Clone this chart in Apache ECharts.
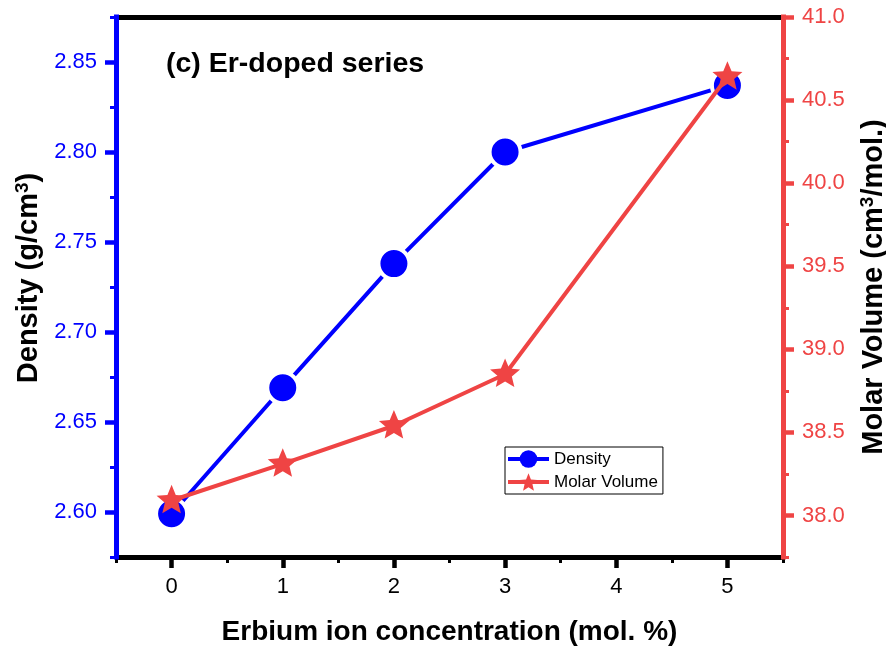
<!DOCTYPE html>
<html>
<head>
<meta charset="utf-8">
<script src="https://cdn.jsdelivr.net/npm/echarts@6/dist/echarts.min.js"></script>
<style>
  html, body { margin: 0; padding: 0; background: #ffffff; }
  #chart { width: 886px; height: 648px; }
</style>
</head>
<body>
<div id="chart"></div>
<script>
// Er2O3 content (mol. %) and measured glass properties
const erConcentration = [0, 1, 2, 3, 5];
const density = [2.599, 2.669, 2.738, 2.800, 2.837];         // g/cm3
const molarVolume = [38.09, 38.31, 38.54, 38.85, 40.64];     // cm3/mol

// Labelled (major) tick positions
const xTicks = [0, 1, 2, 3, 4, 5];
const densityTicks = [2.60, 2.65, 2.70, 2.75, 2.80, 2.85];
const molarTicks = [38.0, 38.5, 39.0, 39.5, 40.0, 40.5, 41.0];

const FONT = '"Liberation Sans", Arial, sans-serif';
const BLUE = '#0000FF';
const RED = '#EF4444';
const BLACK = '#000000';

// Five-pointed star outline used as the molar-volume marker
function starPath(inner) {
  const pts = [];
  for (let i = 0; i < 10; i++) {
    const r = i % 2 ? inner : 1;
    const a = -Math.PI / 2 + i * Math.PI / 5;
    pts.push((r * Math.cos(a)).toFixed(4) + ' ' + (r * Math.sin(a)).toFixed(4));
  }
  return 'path://M' + pts.join(' L') + ' Z';
}

const boldText = (size) => ({ fontSize: size, fontWeight: 'bold', fontFamily: FONT, color: BLACK });
const supStyle = { fontSize: 19, fontWeight: 'bold', fontFamily: FONT, color: BLACK, verticalAlign: 'top', padding: [0, 0, 12, 0] };

// Each scale gets two stacked axes: one carrying the short minor ticks and line,
// one carrying the long labelled ticks.
function minorAxis(position, min, max, step, color, z, cap) {
  return {
    type: 'value', position, min, max, interval: step, z,
    axisLine: { show: true, onZero: false, lineStyle: { color, width: 5, cap: cap || 'butt' } },
    axisTick: { show: true, inside: false, length: 6, lineStyle: { color, width: 3 } },
    axisLabel: { show: false },
    splitLine: { show: false }
  };
}
function majorAxis(position, min, max, ticks, color, labelColor, digits, z, extra) {
  return Object.assign({
    type: 'value', position, min, max, z,
    axisLine: { show: false, onZero: false },
    axisTick: { show: true, inside: false, length: 11, customValues: ticks, lineStyle: { color, width: 4.5 } },
    axisLabel: {
      show: true, customValues: ticks, margin: 19,
      formatter: v => Number(v).toFixed(digits),
      color: labelColor, fontSize: 22, fontFamily: FONT
    },
    splitLine: { show: false }
  }, extra);
}

const chart = echarts.init(document.getElementById('chart'), null, { renderer: 'canvas' });

chart.setOption({
  animation: false,
  backgroundColor: '#ffffff',
  grid: { left: 116, top: 17, width: 667, height: 540, containLabel: false, outerBoundsMode: 'none' },
  graphic: [{
    type: 'text', left: 166, top: 50,
    style: Object.assign({ text: '(c) Er-doped series' }, boldText(28.5))
  }],
  legend: {
    orient: 'vertical', left: 505, top: 447,
    itemWidth: 41, itemHeight: 22, itemGap: 1,
    padding: [1, 5, 1, 1],
    borderColor: BLACK, borderWidth: 1, borderRadius: 0, backgroundColor: '#ffffff',
    lineStyle: { width: 4 },
    itemStyle: { borderWidth: 0 },
    textStyle: { fontSize: 17, fontFamily: FONT, color: BLACK, lineHeight: 22, height: 22 },
    data: ['Density', 'Molar Volume']
  },
  xAxis: [
    minorAxis('bottom', -0.5, 5.5, 0.5, BLACK, 2),
    majorAxis('bottom', -0.5, 5.5, xTicks, BLACK, BLACK, 0, 2, {
      name: 'Erbium ion concentration (mol. %)',
      nameLocation: 'middle', nameGap: 61, nameTextStyle: boldText(28)
    }),
    {
      type: 'value', position: 'top', min: -0.5, max: 5.5, z: 2,
      axisLine: { show: true, onZero: false, lineStyle: { color: BLACK, width: 5 } },
      axisTick: { show: false }, axisLabel: { show: false }, splitLine: { show: false }
    }
  ],
  yAxis: [
    minorAxis('left', 2.575, 2.875, 0.025, BLUE, 4, 'square'),
    majorAxis('left', 2.575, 2.875, densityTicks, BLUE, BLUE, 2, 4, {
      name: 'Density (g/cm{sup|3})',
      nameLocation: 'middle', nameGap: 72, nameRotate: 90,
      nameTextStyle: Object.assign({ rich: { sup: supStyle }, padding: [0, 0, 0, 18] }, boldText(29))
    }),
    minorAxis('right', 37.75, 41.0, 0.25, RED, 4, 'square'),
    majorAxis('right', 37.75, 41.0, molarTicks, RED, RED, 1, 4, {
      name: 'Molar Volume (cm{sup|3}/mol.)',
      nameLocation: 'middle', nameGap: 75, nameRotate: 90,
      nameTextStyle: Object.assign({ rich: { sup: supStyle } }, boldText(29))
    })
  ],
  series: [
    {
      name: 'Density', type: 'line', xAxisIndex: 0, yAxisIndex: 0,
      data: erConcentration.map((x, i) => [x, density[i]]),
      symbol: 'circle', symbolSize: 31,
      // white rim leaves a small gap where the connecting line meets the dot
      itemStyle: { color: BLUE, borderColor: '#ffffff', borderWidth: 4 },
      lineStyle: { color: BLUE, width: 4 },
      z: 5
    },
    {
      name: 'Molar Volume', type: 'line', xAxisIndex: 0, yAxisIndex: 2,
      data: erConcentration.map((x, i) => [x, molarVolume[i]]),
      symbol: starPath(0.45), symbolSize: [30, 28.5], symbolOffset: [0, -1.4],
      itemStyle: { color: RED },
      lineStyle: { color: RED, width: 4 },
      z: 6
    }
  ]
});
</script>
</body>
</html>
